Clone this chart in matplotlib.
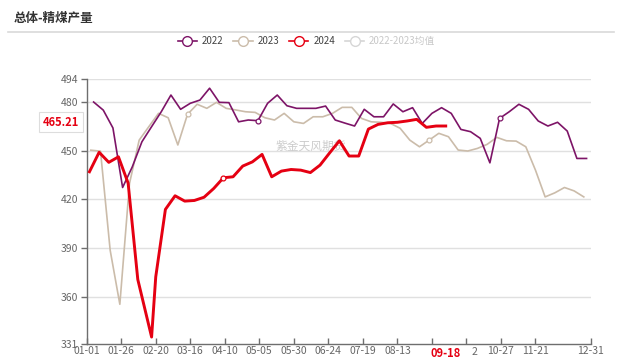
import datetime as dt
import matplotlib
matplotlib.use("Agg")
import matplotlib.pyplot as plt
from matplotlib.lines import Line2D

plt.rcParams['font.family'] = ['Noto Sans CJK SC', 'DejaVu Sans']

# ---------------- data ----------------
title = "总体-精煤产量"
series_names = ["2022", "2023", "2024", "2022-2023均值"]

days_2022 = [5 + 7 * i for i in range(52)]
vals_2022 = [480, 475, 464, 427.3, 440, 455.5, 464.8, 474, 484.3, 475.5,
             479.2, 481.2, 488.5, 479.8, 479.6, 467.8, 468.9, 468.5, 479.2, 484.3,
             477.7, 476.1, 476.1, 476.1, 477.5, 468.9, 467, 465.2, 475.5, 470.9,
             470.9, 478.8, 474, 476.5, 466.8, 473, 476.5, 473, 463.1, 461.7,
             457.6, 442.5, 469.9, 474, 478.6, 475.5, 468.3, 465.2, 467.5, 462.1,
             445.2, 445.2]

days_2023 = [3 + 7 * i for i in range(52)]
vals_2023 = [450.3, 449.7, 388.6, 355.3, 429.8, 456.5, 464.8, 473, 470.3, 453.5,
             472.4, 478.6, 476.1, 479.8, 476.1, 475.1, 474, 473.6, 470.3, 468.9,
             473, 467.8, 466.8, 470.9, 470.9, 473, 476.7, 476.7, 469.9, 467.8,
             467.5, 466.8, 463.8, 456.5, 452.4, 456.5, 460.7, 458.6, 450.4, 449.8,
             451.4, 453.9, 458.2, 456.1, 455.9, 452.4, 438, 421.5, 424, 427.3,
             425.2, 421.5]

days_2024 = [2, 9, 16, 23, 30, 37, 47] + [50 + 7 * i for i in range(31)]
vals_2024 = [437, 449, 442.8, 446.2, 430, 370.6, 335.1, 372.2, 413.8, 422.2,
             418.9, 419.3, 421.3, 426.7, 433.3, 433.9, 440.5, 443.1, 447.7, 433.9,
             437.4, 438.4, 438, 436.5, 441.1, 448.7, 456.1, 446.7, 446.7, 463.3,
             466.2, 467.2, 467.5, 468.3, 469.3, 464.4, 465.2, 465.21]

marks_2022 = [17, 42]
marks_2023 = [10, 35]
marks_2024 = [14]

y_ticks = [331, 360, 390, 420, 450, 480, 494]
tick_days = [0, 25, 50, 75, 100, 125, 150, 175, 200, 225, 250, 275, 300, 325, 365]
hidden_labels = ["09-07", "10-02"]
partial_label = "2"          # the visible tail of the covered "10-02" label
pointer_x_label = "09-18"
pointer_y_label = "465.21"
watermark = "紫金天风期货"

colors = ["#7d1467", "#cbbcaa", "#e50012", "#d6d6d6"]

# ---------------- figure ----------------
W, H = 622, 363
fig = plt.figure(figsize=(W / 100, H / 100), dpi=100)
ax = fig.add_axes([86.7 / W, 1 - 343.7 / H, (590.7 - 86.7) / W, (343.7 - 79.3) / H])

ax.set_xlim(0, 365)
ax.set_ylim(331, 494)

ax.plot(days_2023, vals_2023, color=colors[1], lw=1.2, marker='o', ms=3.5,
        mfc='white', mec=colors[1], mew=0.9, markevery=marks_2023, zorder=3)
ax.plot(days_2022, vals_2022, color=colors[0], lw=1.2, marker='o', ms=3.5,
        mfc='white', mec=colors[0], mew=0.9, markevery=marks_2022, zorder=4)
ax.plot(days_2024, vals_2024, color=colors[2], lw=2.1, marker='o', ms=3.5,
        mfc='white', mec=colors[2], mew=0.9, markevery=marks_2024, zorder=5)

# grid
for v in y_ticks[1:]:
    ax.axhline(v, color="#e0e0e0", lw=1.0, zorder=1)

ax.set_yticks(y_ticks)
ax.set_yticklabels([str(v) for v in y_ticks])
base = dt.date(2024, 1, 1)
labels = []
for d in tick_days:
    s = (base + dt.timedelta(days=d)).strftime("%m-%d")
    labels.append("" if s in hidden_labels else s)
ax.set_xticks(tick_days)
ax.set_xticklabels(labels)

for s in ["top", "right"]:
    ax.spines[s].set_visible(False)
for s in ["left", "bottom"]:
    ax.spines[s].set_color("#6e6e6e")
    ax.spines[s].set_linewidth(1.0)
ax.tick_params(axis='y', direction='out', length=4, width=1.0, color="#6e6e6e",
               labelsize=7.5, labelcolor="#666666", pad=2)
ax.tick_params(axis='x', direction='in', length=4, width=1.0, color="#6e6e6e",
               labelsize=7.5, labelcolor="#666666", pad=2)

# watermark
ax.text(162, 452.5, watermark, fontsize=8.5, color="#cccccc", ha='center', va='center', zorder=2)

# axis pointer labels
ax.annotate(pointer_x_label, xy=(260, 331), xycoords='data', xytext=(0, -2.2),
            textcoords='offset points', fontsize=8, fontweight='bold',
            color="#e50012", ha='center', va='top', zorder=10, annotation_clip=False)
ax.annotate(partial_label, xy=(275, 331), xycoords='data', xytext=(5.5, -2.2),
            textcoords='offset points', fontsize=7.5, color="#666666",
            ha='center', va='top', annotation_clip=False)
fig.text(61 / W, 1 - 122 / H, pointer_y_label, fontsize=8, fontweight='bold', color="#e50012",
         ha='center', va='center',
         bbox=dict(boxstyle='square,pad=0.3', fc='white', ec='#dddddd', lw=0.8))

# title and divider
fig.text(14 / W, 1 - 18 / H, title, fontsize=9, fontweight='bold', color="#333333",
         ha='left', va='center')
fig.add_artist(Line2D([8 / W, 614 / W], [1 - 31.7 / H, 1 - 31.7 / H], color="#d9d9d9", lw=1.2))

# legend
handles = []
for i, n in enumerate(series_names):
    handles.append(Line2D([0], [0], color=colors[i], lw=1.2, marker='o', ms=7,
                          mfc='white', mec=colors[i], mew=1.0))
leg = fig.legend(handles, series_names, loc='center', bbox_to_anchor=(306.5 / W, 1 - 41 / H),
                 ncol=4, frameon=False, fontsize=7, handlelength=2.0, handletextpad=0.5,
                 columnspacing=1.0)
for i, t in enumerate(leg.get_texts()):
    t.set_color("#c8c8c8" if i == 3 else "#444444")

fig.savefig("out.png", dpi=100)
